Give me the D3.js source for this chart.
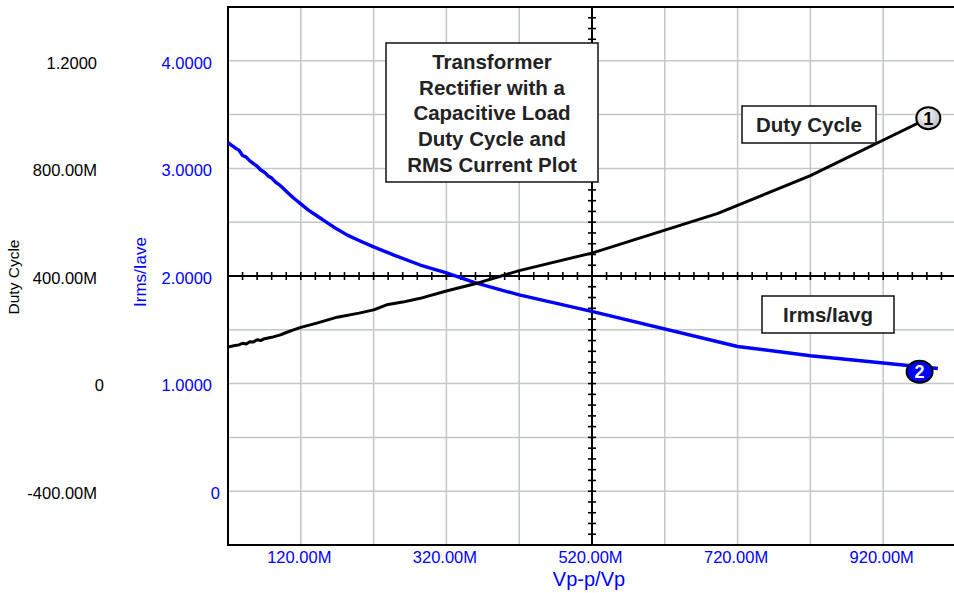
<!DOCTYPE html>
<html>
<head>
<meta charset="utf-8">
<script src="https://cdn.jsdelivr.net/npm/d3@7"></script>
<style>
  html, body { margin: 0; padding: 0; background: #fff; }
  svg { display: block; font-family: "Liberation Sans", Arial, Helvetica, sans-serif; }
</style>
</head>
<body>
<svg id="chart" width="954" height="593"></svg>
<script>
// ---------------- data ----------------
// x values are in "M" units (×1e-3), duty cycle in plain units, ratio in plain units
const dutyX = [20, 25, 30, 35, 40, 45, 50, 55, 60, 65, 70, 80, 92, 100, 110, 120, 142, 170, 200, 220, 238, 260, 284, 320, 358, 420, 521, 692, 820, 995];
const dutyY = [0.136, 0.139, 0.142, 0.144, 0.150, 0.147, 0.156, 0.155, 0.163, 0.160, 0.167, 0.172, 0.181, 0.190, 0.200, 0.209, 0.225, 0.247, 0.262, 0.274, 0.293, 0.303, 0.317, 0.344, 0.370, 0.420, 0.486, 0.632, 0.773, 1.004];

const ratioX = [20, 25, 30, 35, 40, 45, 50, 55, 60, 65, 70, 75, 80, 85, 90, 95, 101, 110, 120, 130, 142, 155, 165, 184, 200, 220, 248, 284, 320, 358, 420, 521, 720, 820, 920, 995];
const ratioY = [3.240, 3.215, 3.190, 3.170, 3.120, 3.105, 3.070, 3.044, 3.020, 2.985, 2.965, 2.930, 2.910, 2.875, 2.850, 2.820, 2.781, 2.725, 2.670, 2.615, 2.560, 2.500, 2.456, 2.380, 2.330, 2.271, 2.194, 2.102, 2.030, 1.940, 1.824, 1.669, 1.345, 1.259, 1.192, 1.140];

const xTickValues = [120, 320, 520, 720, 920];
const xTickLabels = ["120.00M", "320.00M", "520.00M", "720.00M", "920.00M"];
const dutyTickValues = [1.2, 0.8, 0.4, 0, -0.4];
const dutyTickLabels = ["1.2000", "800.00M", "400.00M", "0", "-400.00M"];
const ratioTickValues = [4, 3, 2, 1, 0];
const ratioTickLabels = ["4.0000", "3.0000", "2.0000", "1.0000", "0"];

const titleLines = ["Transformer", "Rectifier with a", "Capacitive Load", "Duty Cycle and", "RMS Current Plot"];
const markerLabels = ["1", "2"];
const markerX = [982, 970];

// ---------------- layout ----------------
const L = 228, R = 956, T = 7, B = 545;
const svg = d3.select("#chart");

const x = d3.scaleLinear().domain([20, 1020]).range([L, R]);
const yDuty = d3.scaleLinear().domain([-0.6, 1.4]).range([B, T]);
const yRatio = d3.scaleLinear().domain([-0.5, 4.5]).range([B, T]);

const gridColor = "#c2c9c2";
const blue = "#0000ff";

// grid
const g = svg.append("g");
g.selectAll("line.vg").data(d3.range(120, 1001, 100)).join("line")
  .attr("x1", d => x(d)).attr("x2", d => x(d)).attr("y1", T).attr("y2", B)
  .attr("stroke", gridColor).attr("stroke-width", 1.5);
g.selectAll("line.hg").data(d3.range(-0.4, 1.21, 0.2)).join("line")
  .attr("x1", L).attr("x2", R).attr("y1", d => yDuty(d)).attr("y2", d => yDuty(d))
  .attr("stroke", gridColor).attr("stroke-width", 1.5);

// cross axes through centre
const cx = x(520), cy = yDuty(0.4);
g.append("line").attr("x1", L).attr("x2", R).attr("y1", cy).attr("y2", cy).attr("stroke", "#000").attr("stroke-width", 2);
g.append("line").attr("x1", cx).attr("x2", cx).attr("y1", T).attr("y2", B).attr("stroke", "#000").attr("stroke-width", 2);
g.selectAll("line.ht").data(d3.range(40, 1020, 20)).join("line")
  .attr("x1", d => x(d)).attr("x2", d => x(d)).attr("y1", cy - 4).attr("y2", cy + 4)
  .attr("stroke", "#000").attr("stroke-width", 1.6);
g.selectAll("line.vt").data(d3.range(-0.56, 1.39, 0.04)).join("line")
  .attr("x1", cx - 4).attr("x2", cx + 4).attr("y1", d => yDuty(d)).attr("y2", d => yDuty(d))
  .attr("stroke", "#000").attr("stroke-width", 1.6);

// frame
svg.append("rect").attr("x", L).attr("y", T).attr("width", R - L).attr("height", B - T)
  .attr("fill", "none").attr("stroke", "#000").attr("stroke-width", 2);

// series
const dutyData = dutyX.map((d, i) => [d, dutyY[i]]);
const ratioData = ratioX.map((d, i) => [d, ratioY[i]]);
svg.append("path").datum(ratioData)
  .attr("d", d3.line().x(d => x(d[0])).y(d => yRatio(d[1])))
  .attr("fill", "none").attr("stroke", blue).attr("stroke-width", 3.4).attr("stroke-linejoin", "round");
svg.append("path").datum(dutyData)
  .attr("d", d3.line().x(d => x(d[0])).y(d => yDuty(d[1])))
  .attr("fill", "none").attr("stroke", "#000").attr("stroke-width", 3).attr("stroke-linejoin", "round");

// axes (labels only)
function styleAxis(sel, color) {
  sel.select(".domain").remove();
  sel.selectAll(".tick line").remove();
  sel.selectAll("text").attr("fill", color).attr("font-size", 16.5)
    .attr("font-family", "'Liberation Sans', Arial, sans-serif");
}
const axDuty = svg.append("g").attr("transform", `translate(97,2)`)
  .call(d3.axisLeft(yDuty).tickValues(dutyTickValues).tickFormat((d, i) => dutyTickLabels[i]).tickSize(0).tickPadding(0));
styleAxis(axDuty, "#000");
axDuty.selectAll(".tick text").filter(d => d === 0).attr("x", 7);

const axRatio = svg.append("g").attr("transform", `translate(212,2)`)
  .call(d3.axisLeft(yRatio).tickValues(ratioTickValues).tickFormat((d, i) => ratioTickLabels[i]).tickSize(0).tickPadding(0));
styleAxis(axRatio, blue);
axRatio.selectAll(".tick text").filter(d => d === 0).attr("x", 8);

const axX = svg.append("g").attr("transform", `translate(-2,${B})`)
  .call(d3.axisBottom(x).tickValues(xTickValues).tickFormat((d, i) => xTickLabels[i]).tickSize(0).tickPadding(6));
styleAxis(axX, blue);

// axis titles
svg.append("text").attr("transform", "translate(19,277) rotate(-90)").attr("text-anchor", "middle")
  .attr("font-size", 15.5).attr("fill", "#000").text("Duty Cycle");
svg.append("text").attr("transform", "translate(146,272) rotate(-90)").attr("text-anchor", "middle")
  .attr("font-size", 17).attr("fill", blue).text("Irms/Iave");
svg.append("text").attr("x", 589).attr("y", 586).attr("text-anchor", "middle")
  .attr("font-size", 20).attr("fill", blue).text("Vp-p/Vp");

// title box
svg.append("rect").attr("x", 386).attr("y", 43).attr("width", 212).attr("height", 139)
  .attr("fill", "#fff").attr("stroke", "#111").attr("stroke-width", 1.5);
svg.append("g").selectAll("text").data(titleLines).join("text")
  .attr("x", 492).attr("y", (d, i) => 69 + i * 25.7).attr("text-anchor", "middle")
  .attr("font-size", 20.5).attr("font-weight", "bold").attr("fill", "#222").text(d => d);

// legend boxes
function labelBox(x0, y0, w, h, txt) {
  svg.append("rect").attr("x", x0).attr("y", y0).attr("width", w).attr("height", h)
    .attr("fill", "#fff").attr("stroke", "#111").attr("stroke-width", 1.5);
  svg.append("text").attr("x", x0 + w / 2).attr("y", y0 + h / 2 + 7.5).attr("text-anchor", "middle")
    .attr("font-size", 20.5).attr("font-weight", "bold").attr("fill", "#222").text(txt);
}
labelBox(742, 106, 134, 37, "Duty Cycle");
labelBox(762, 296, 132, 37, "Irms/Iavg");

// markers
const defs = svg.append("defs");
const grad = defs.append("radialGradient").attr("id", "mg").attr("cx", "40%").attr("cy", "35%").attr("r", "70%");
grad.append("stop").attr("offset", "0%").attr("stop-color", "#ffffff");
grad.append("stop").attr("offset", "100%").attr("stop-color", "#b8b8b8");

function interp(xs, ys, v) {
  const i = Math.max(1, d3.bisectLeft(xs, v));
  const t = (v - xs[i - 1]) / (xs[i] - xs[i - 1]);
  return ys[i - 1] + t * (ys[i] - ys[i - 1]);
}
const m1x = x(markerX[0]), m1y = yDuty(interp(dutyX, dutyY, markerX[0]));
svg.append("ellipse").attr("cx", m1x).attr("cy", m1y).attr("rx", 12).attr("ry", 11)
  .attr("fill", "url(#mg)").attr("stroke", "#000").attr("stroke-width", 2);
svg.append("text").attr("x", m1x).attr("y", m1y + 6.5).attr("text-anchor", "middle")
  .attr("font-size", 18).attr("font-weight", "bold").attr("fill", "#000").text(markerLabels[0]);

const m2x = x(markerX[1]), m2y = yRatio(interp(ratioX, ratioY, markerX[1])) + 5;
svg.append("ellipse").attr("cx", m2x).attr("cy", m2y).attr("rx", 13).attr("ry", 11)
  .attr("fill", blue).attr("stroke", "#000").attr("stroke-width", 2);
svg.append("text").attr("x", m2x).attr("y", m2y + 6.5).attr("text-anchor", "middle")
  .attr("font-size", 18).attr("font-weight", "bold").attr("fill", "#fff").text(markerLabels[1]);
</script>
</body>
</html>
